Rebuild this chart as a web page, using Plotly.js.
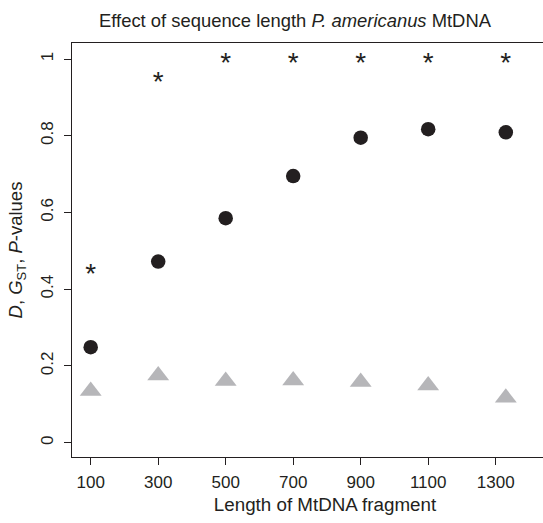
<!DOCTYPE html>
<html>
<head>
<meta charset="utf-8">
<script src="https://cdn.plot.ly/plotly-3.0.1.min.js"></script>
<style>
html, body { margin: 0; padding: 0; overflow: hidden; background: #fff; }
#chart { width: 578px; height: 523px; }
</style>
</head>
<body>
<div id="chart"></div>
<script>
// Fragment lengths (x)
const lengths = [100, 300, 500, 700, 900, 1100, 1330];
// D values (black circles)
const dValues = [0.249, 0.472, 0.585, 0.695, 0.795, 0.817, 0.809];
// G_ST values (grey triangles)
const gstValues = [0.135, 0.175, 0.161, 0.162, 0.158, 0.149, 0.117];
// P-values (asterisks)
const pValues = [0.45, 0.95, 1, 1, 1, 1, 1];
// Axis ticks
const xTicks = [100, 300, 500, 700, 900, 1100, 1300];
const yTicks = [0, 0.2, 0.4, 0.6, 0.8, 1];
const yTickText = ['0', '0.2', '0.4', '0.6', '0.8', '1'];

const ink = '#231f20';
const font = 'Liberation Sans, Arial, Helvetica, sans-serif';

const traces = [
  {
    x: lengths, y: gstValues, type: 'scatter', mode: 'markers', name: 'GST',
    marker: { symbol: 'triangle-up', size: 19, color: '#b6b6b9', line: { width: 0 } },
    hoverinfo: 'x+y'
  },
  {
    x: lengths, y: dValues, type: 'scatter', mode: 'markers', name: 'D',
    marker: { symbol: 'circle', size: 14.5, color: ink, line: { width: 0 } },
    hoverinfo: 'x+y'
  },
  {
    x: lengths, y: pValues, type: 'scatter', mode: 'text', name: 'P',
    text: pValues.map(() => '<span style="font-size:28px">*</span>'),
    textposition: 'middle center',
    textfont: { family: font, size: 50, color: ink },
    hoverinfo: 'x+y'
  }
];

const layout = {
  width: 578, height: 523,
  margin: { l: 72, r: 0, t: 43, b: 66, pad: 0 },
  paper_bgcolor: '#ffffff', plot_bgcolor: '#ffffff',
  showlegend: false,
  font: { family: font, color: ink, size: 17 },
  title: {
    text: 'Effect of sequence length <i>P. americanus</i> MtDNA',
    font: { family: font, size: 18.4, color: ink },
    xref: 'container', x: 295 / 578, xanchor: 'center',
    yref: 'container', y: 1 - 21 / 523, yanchor: 'middle'
  },
  xaxis: {
    range: [44.6, 1543.9],
    tickmode: 'array', tickvals: xTicks, ticktext: xTicks.map(String),
    ticks: 'outside', ticklen: 7, tickwidth: 1, tickcolor: ink,
    ticklabelstandoff: 3,
    showline: true, linecolor: ink, linewidth: 1, mirror: true,
    showgrid: false, zeroline: false,
    tickfont: { family: font, size: 17, color: ink },
    title: { text: 'Length of MtDNA fragment', font: { family: font, size: 18.8, color: ink }, standoff: 6 },
    automargin: false
  },
  yaxis: {
    range: [-0.0373, 1.0417],
    tickmode: 'array', tickvals: yTicks, ticktext: yTickText,
    ticks: 'outside', ticklen: 7, tickwidth: 1, tickcolor: ink,
    tickangle: -90, ticklabelstandoff: 4,
    showline: true, linecolor: ink, linewidth: 1, mirror: false,
    showgrid: false, zeroline: false,
    tickfont: { family: font, size: 17, color: ink },
    title: { text: '<i>D</i>, <i>G</i><sub>ST</sub>, <i>P</i>-values', font: { family: font, size: 18.5, color: ink }, standoff: 10 },
    automargin: false
  }
};

Plotly.newPlot('chart', traces, layout, { displayModeBar: false, responsive: false });
</script>
</body>
</html>
